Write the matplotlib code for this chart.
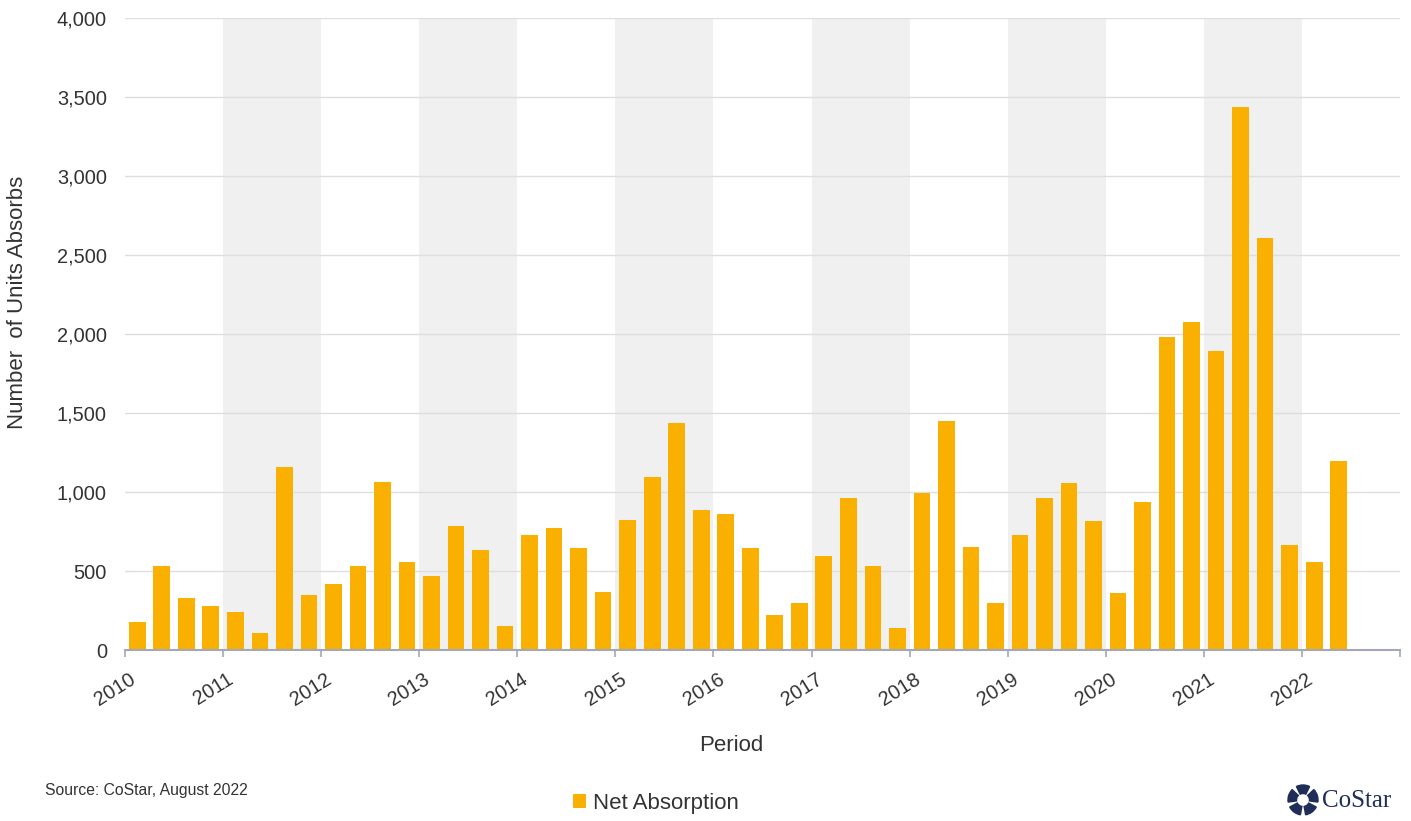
import numpy as np
import matplotlib.pyplot as plt
from matplotlib.patches import Wedge
from matplotlib.transforms import ScaledTranslation

plt.rcParams['font.family'] = ['Liberation Sans', 'DejaVu Sans']

# --- данные: чистое поглощение по кварталам, 2010 Q1 – 2022 Q2 ---
years = list(range(2010, 2023))
quarters = ['Q1', 'Q2', 'Q3', 'Q4']
net_absorption = [
    177, 532, 329, 278,      # 2010
    240, 108, 1158, 348,     # 2011
    418, 532, 1063, 557,     # 2012
    468, 785, 633, 152,      # 2013
    728, 772, 645, 367,      # 2014
    823, 1095, 1437, 886,    # 2015
    861, 645, 222, 297,      # 2016
    595, 962, 532, 139,      # 2017
    993, 1449, 652, 297,     # 2018
    728, 962, 1057, 816,     # 2019
    361, 937, 1981, 2076,    # 2020
    1892, 3437, 2607, 665,   # 2021
    557, 1196,               # 2022
]
y_ticks = [0, 500, 1000, 1500, 2000, 2500, 3000, 3500, 4000]
shaded_years = [2011, 2013, 2015, 2017, 2019, 2021]

bar_color = '#F9B000'
axis_color = '#A3A8B8'
text_color = '#333333'
logo_color = '#1F2D5A'

# позиции столбцов: середина квартала в долях года
x = np.array([2010 + (i + 0.5) / 4 for i in range(len(net_absorption))])

fig = plt.figure(figsize=(14.11, 8.21), dpi=100)
ax = fig.add_axes([125/1411, 1 - 650/821, 1275/1411, 632/821])

for yr in shaded_years:
    ax.axvspan(yr, yr + 1, color='#F0F0F0', zorder=0, lw=0)

ax.bar(x, net_absorption, width=0.17, color=bar_color, zorder=3,
       label='Net Absorption')

ax.set_xlim(2010, 2023)
ax.set_ylim(0, 4000)
ax.set_yticks(y_ticks)
ax.set_yticklabels([f'{v:,}' for v in y_ticks])
ax.yaxis.grid(True, color='#DEDEDE', lw=1, zorder=1)
ax.set_axisbelow(True)

for s in ['top', 'right', 'left']:
    ax.spines[s].set_visible(False)
ax.spines['bottom'].set_color(axis_color)
ax.spines['bottom'].set_linewidth(1.5)
ax.spines['bottom'].set_zorder(4)

ax.tick_params(axis='x', colors=axis_color, length=5, width=1.2,
               labelcolor=text_color, labelsize=14.4, pad=9)
ax.tick_params(axis='y', length=0, labelcolor=text_color, labelsize=14.4,
               pad=13)

ax.set_xticks(list(range(2010, 2024)))
ax.set_xticklabels([str(y) for y in years] + [''], rotation=32, ha='right')
# сдвиг подписей годов немного вправо, как в оригинале
shift = ScaledTranslation(14/100, 0, fig.dpi_scale_trans)
for lbl in ax.get_xticklabels():
    lbl.set_transform(lbl.get_transform() + shift)

ax.set_ylabel('Number  of Units Absorbs', fontsize=16, color=text_color,
              va='center')
ax.yaxis.set_label_coords((18 - 125) / 1275, (650 - 302) / 632)
ax.set_xlabel('Period', fontsize=16, color=text_color, va='center')
ax.xaxis.set_label_coords((731 - 125) / 1275, (650 - 745) / 632)

# легенда внизу
fig.legend(loc='center', bbox_to_anchor=(656/1411, 1 - 803/821), frameon=False,
           fontsize=16, handlelength=0.6, handleheight=0.6, handletextpad=0.3,
           labelcolor=text_color)

fig.text(45/1411, 1 - 790/821, 'Source: CoStar, August 2022', fontsize=11.3,
         color=text_color, va='center')

# логотип CoStar (приближённо)
lax = fig.add_axes([1287/1411, 1 - 816/821, 32/1411, 32/821])
lax.set_xlim(-16, 16)
lax.set_ylim(-16, 16)
lax.axis('off')
for a in np.arange(90, 450, 72):
    lax.add_patch(Wedge((0, 0), 15, a - 26, a + 26, width=8.5,
                        color=logo_color))
fig.text(1322/1411, 1 - 801/821, 'CoStar', fontsize=18,
         family='Liberation Serif', color=logo_color, va='center')

fig.savefig('out.png', dpi=100)
